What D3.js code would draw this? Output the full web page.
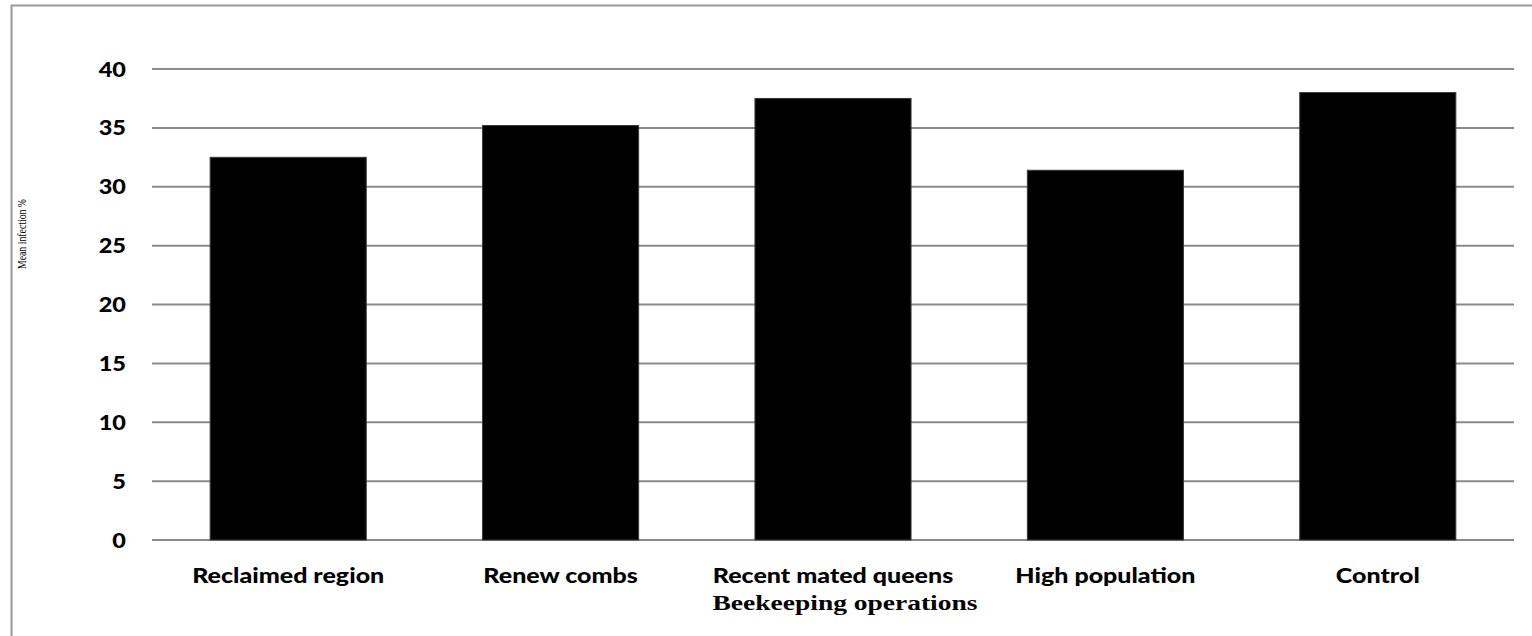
<!DOCTYPE html>
<html>
<head>
<meta charset="utf-8">
<script src="https://cdn.jsdelivr.net/npm/d3@7"></script>
<style>
  body { margin: 0; background: #fff; }
  svg { display: block; }
</style>
</head>
<body>
<div id="graphicContainer"></div>
<script>

const categories = ["Reclaimed region", "Renew combs", "Recent mated queens", "High population", "Control"]
const meanInfection = [32.5, 35.2, 37.5, 31.4, 38.0]
const yTicks = [0, 5, 10, 15, 20, 25, 30, 35, 40]

const xTitle = "Beekeeping operations"
const yTitle = "Mean infection %"

const width = 1532
const height = 636

const marginleft = 152
const marginright = 18
const margintop = 69
const marginbottom = 96

const sansFont = "Lato, 'Open Sans', sans-serif"

const svg = d3.select("#graphicContainer").append("svg")
  .attr("width", width)
  .attr("height", height)

// frame (top and left edges only are visible)
svg.append("path")
  .attr("d", `M11.5,${height} V5.5 H${width}`)
  .attr("fill", "none")
  .attr("stroke", "#9a9a9a")
  .attr("stroke-width", 2)

const x = d3.scaleBand()
  .domain(categories)
  .range([marginleft, width - marginright])
  .paddingInner(0.427)
  .paddingOuter(0.2135)

const y = d3.scaleLinear()
  .domain([0, 40])
  .range([height - marginbottom, margintop])

// gridlines
svg.append("g")
  .selectAll("line")
  .data(yTicks)
  .enter()
  .append("line")
  .attr("x1", marginleft)
  .attr("x2", width - marginright)
  .attr("y1", d => y(d))
  .attr("y2", d => y(d))
  .attr("stroke", "#8a8a8a")
  .attr("stroke-width", 2)

// tick labels (the source text is a bit stretched sideways)
svg.append("g")
  .selectAll("text")
  .data(yTicks)
  .enter()
  .append("text")
  .attr("transform", d => `translate(126, ${y(d)}) scale(1.12, 1)`)
  .attr("dy", "0.36em")
  .attr("text-anchor", "end")
  .attr("font-family", sansFont)
  .attr("font-weight", 900)
  .attr("font-size", 21)
  .attr("fill", "#000")
  .text(d => d)

// bars
svg.append("g")
  .selectAll("rect")
  .data(categories)
  .enter()
  .append("rect")
  .attr("x", d => x(d))
  .attr("width", x.bandwidth())
  .attr("y", (d, i) => y(meanInfection[i]))
  .attr("height", (d, i) => y(0) - y(meanInfection[i]))
  .attr("fill", "#000")
  .attr("stroke", "#3a3a3a")
  .attr("stroke-width", 1)

// category labels
svg.append("g")
  .selectAll("text")
  .data(categories)
  .enter()
  .append("text")
  .attr("transform", d => `translate(${x(d) + x.bandwidth() / 2}, 583) scale(1.19, 1)`)
  .attr("text-anchor", "middle")
  .attr("font-family", sansFont)
  .attr("font-weight", 900)
  .attr("font-size", 21)
  .attr("fill", "#000")
  .text(d => d)

// x axis title
svg.append("text")
  .attr("transform", "translate(845, 610) scale(1.25, 1)")
  .attr("text-anchor", "middle")
  .attr("font-family", "'Liberation Serif', 'DejaVu Serif', serif")
  .attr("font-weight", "bold")
  .attr("font-size", 22)
  .attr("fill", "#000")
  .text(xTitle)

// y axis title (small, condensed)
svg.append("text")
  .attr("transform", "translate(26, 234) rotate(-90)")
  .attr("text-anchor", "middle")
  .attr("font-family", "'Liberation Serif', serif")
  .attr("font-size", 12)
  .attr("textLength", 70)
  .attr("lengthAdjust", "spacingAndGlyphs")
  .attr("fill", "#000")
  .text(yTitle)

</script>
</body>
</html>
